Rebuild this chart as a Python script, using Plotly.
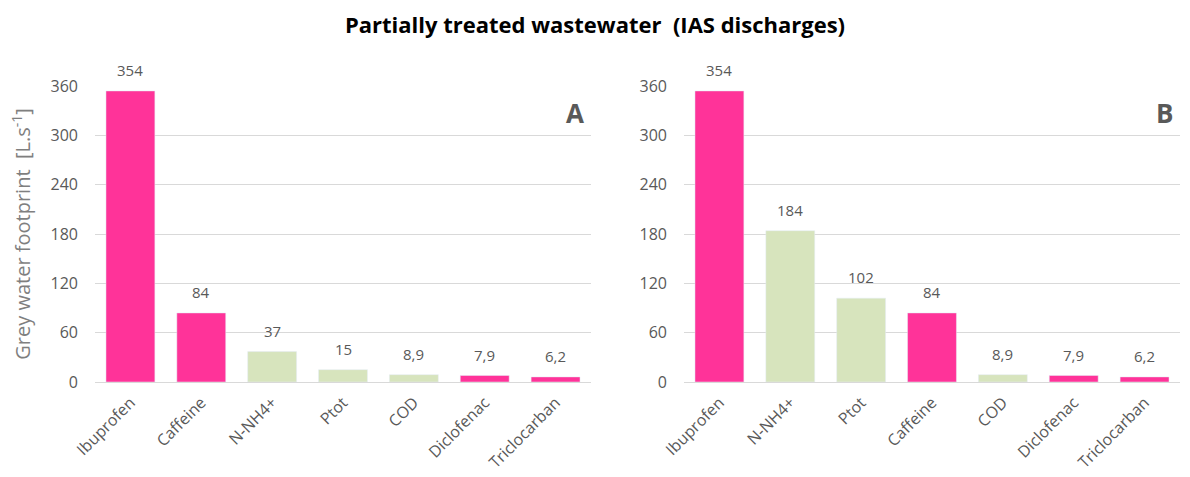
import plotly.graph_objects as go

cats_a = ["Ibuprofen", "Caffeine", "N-NH4+", "Ptot", "COD", "Diclofenac", "Triclocarban"]
vals_a = [354, 84, 37, 15, 8.9, 7.9, 6.2]
text_a = ["354", "84", "37", "15", "8,9", "7,9", "6,2"]
type_a = ["pharma", "pharma", "nutr", "nutr", "nutr", "pharma", "pharma"]

cats_b = ["Ibuprofen", "N-NH4+", "Ptot", "Caffeine", "COD", "Diclofenac", "Triclocarban"]
vals_b = [354, 184, 102, 84, 8.9, 7.9, 6.2]
text_b = ["354", "184", "102", "84", "8,9", "7,9", "6,2"]
type_b = ["pharma", "nutr", "nutr", "pharma", "nutr", "pharma", "pharma"]

PINK = "#FF3399"
GREEN = "#D7E4BD"
cmap = {"pharma": PINK, "nutr": GREEN}
FONT = "Open Sans"
GREY = "#595959"

fig = go.Figure()
annotations = []
for cats, vals, txt, typ, xa, ya in [(cats_a, vals_a, text_a, type_a, "x", "y"),
                                     (cats_b, vals_b, text_b, type_b, "x2", "y2")]:
    fig.add_trace(go.Bar(x=cats, y=vals,
                         marker_color=[cmap[t] for t in typ],
                         xaxis=xa, yaxis=ya, showlegend=False, hoverinfo="x+y"))
    for c, v, t in zip(cats, vals, txt):
        annotations.append(dict(x=c, y=v, xref=xa, yref=ya, text=t, showarrow=False,
                                yanchor="bottom", yshift=9,
                                font=dict(size=15, color=GREY, family=FONT)))

ydom = [(477 - 382) / 477, (477 - 86) / 477]
axis_y = dict(range=[0, 360], tickvals=[0, 60, 120, 180, 240, 300, 360],
              showgrid=True, gridcolor="#D9D9D9", gridwidth=1, zeroline=False,
              tickfont=dict(size=16, color=GREY, family=FONT), ticks="",
              ticklabelstandoff=16, domain=ydom, automargin=False)
axis_x = dict(tickangle=-45, tickfont=dict(size=16, color=GREY, family=FONT),
              showline=True, linecolor="#D9D9D9", ticks="", automargin=False,
              ticklabelstandoff=4)

annotations += [
    dict(text="<b>A</b>", x=0.968, y=0.91, xref="x domain", yref="y domain",
         xanchor="center", yanchor="middle",
         showarrow=False, font=dict(size=26, color=GREY, family=FONT)),
    dict(text="<b>B</b>", x=0.968, y=0.91, xref="x2 domain", yref="y2 domain",
         xanchor="center", yanchor="middle",
         showarrow=False, font=dict(size=26, color=GREY, family=FONT)),
]

fig.update_layout(
    width=1190, height=477,
    margin=dict(l=0, r=0, t=0, b=0, autoexpand=False),
    plot_bgcolor="white", paper_bgcolor="white",
    bargap=0.31,
    xaxis=dict(axis_x, domain=[95 / 1190, 591 / 1190], anchor="y"),
    yaxis=dict(axis_y, anchor="x",
               title=dict(text="Grey water footprint  [L.s<sup>-1</sup>]",
                          font=dict(size=20, color="#7F7F7F", family=FONT), standoff=14)),
    xaxis2=dict(axis_x, domain=[684 / 1190, 1180 / 1190], anchor="y2"),
    yaxis2=dict(axis_y, anchor="x2"),
    font=dict(family=FONT),
    title=dict(text="<b>Partially treated wastewater  (IAS discharges)</b>",
               x=0.5, xanchor="center", y=0.948, yanchor="middle",
               font=dict(size=22, color="black", family=FONT)),
    annotations=annotations,
)

fig.write_html("out.html", config={"displayModeBar": False},
               post_script="document.body.style.margin='0';document.body.style.overflow='hidden';")
